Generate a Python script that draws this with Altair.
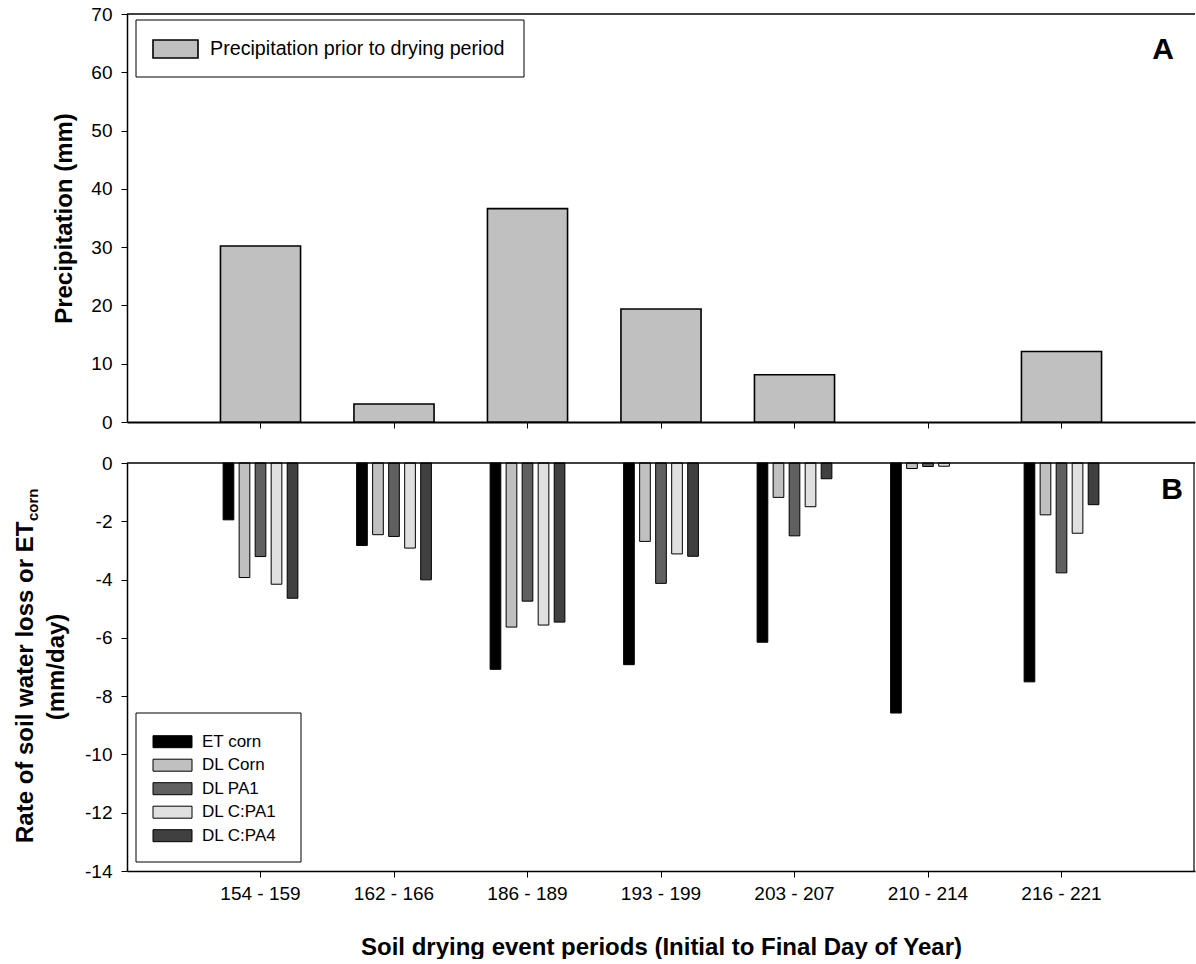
import altair as alt
import pandas as pd

# ---- data -----------------------------------------------------------------
periods = ["154 - 159", "162 - 166", "186 - 189", "193 - 199",
           "203 - 207", "210 - 214", "216 - 221"]

precip = [30.2, 3.1, 36.6, 19.4, 8.1, 0.0, 12.1]

series = ["ET corn", "DL Corn", "DL PA1", "DL C:PA1", "DL C:PA4"]
et_corn = [-1.95, -2.83, -7.08, -6.92, -6.15, -8.58, -7.51]
dl_corn = [-3.93, -2.46, -5.63, -2.69, -1.18, -0.19, -1.78]
dl_pa1 = [-3.21, -2.52, -4.74, -4.13, -2.50, -0.12, -3.77]
dl_c_pa1 = [-4.16, -2.92, -5.56, -3.12, -1.50, -0.11, -2.41]
dl_c_pa4 = [-4.64, -4.01, -5.46, -3.20, -0.54, 0.0, -1.43]

series_colors = ["#000000", "#c0c0c0", "#606060", "#e0e0e0", "#404040"]

precip_df = pd.DataFrame({"period": periods, "precip": precip})

loss_df = pd.DataFrame(
    [
        {"period": p, "series": s, "rate": v}
        for s, vals in zip(series, [et_corn, dl_corn, dl_pa1, dl_c_pa1, dl_c_pa4])
        for p, v in zip(periods, vals)
    ]
)

# ---- layout ---------------------------------------------------------------
W = 1068
H = 408
FONT = "Liberation Sans"

x_scale = alt.Scale(domain=periods, paddingInner=0.4, paddingOuter=0.7)
plain_label = "'' + datum.value"


def text_at(txt, x, y, size, bold=False, align="left", baseline="middle", angle=None):
    kw = dict(text=txt, fontSize=size, font=FONT, align=align,
              baseline=baseline, color="black")
    if bold:
        kw["fontWeight"] = "bold"
    if angle is not None:
        kw["angle"] = angle
    return alt.Chart(precip_df.head(1)).mark_text(**kw).encode(
        x=alt.value(x), y=alt.value(y))


def box_at(x0, x1, y0, y1, fill, sw=1.0):
    return alt.Chart(precip_df.head(1)).mark_rect(
        fill=fill, stroke="black", strokeWidth=sw
    ).encode(x=alt.value(x0), x2=alt.value(x1), y=alt.value(y0), y2=alt.value(y1))


# ---- panel A: precipitation --------------------------------------------------
bars_a = alt.Chart(precip_df).transform_filter("datum.precip > 0").mark_bar(
    color="#c0c0c0", stroke="black", strokeWidth=1.6
).encode(
    x=alt.X("period:N", sort=periods, scale=x_scale,
            axis=alt.Axis(title=None, labels=False, tickSize=6,
                          domainWidth=2, tickWidth=1)),
    y=alt.Y("precip:Q", scale=alt.Scale(domain=[0, 70], nice=False),
            axis=alt.Axis(values=list(range(0, 71, 10)), labelExpr=plain_label,
                          title="Precipitation (mm)", titleAngle=270,
                          titleX=-56, titleY=H / 2, titleAlign="center",
                          titleBaseline="alphabetic")),
)

frame_top_a = alt.Chart(precip_df.head(1)).mark_rule(
    color="black", strokeWidth=1.5
).encode(x=alt.value(0), x2=alt.value(W), y=alt.value(0))

legend_a = (
    box_at(9, 397, 6, 63, "white")
    + box_at(26, 71, 26, 44, "#c0c0c0", 1.6)
    + text_at("Precipitation prior to drying period", 83, 35, 19.7)
)

panel_a = alt.layer(
    bars_a, frame_top_a, legend_a, text_at("A", 1036, 36, 30, bold=True, align="center")
).properties(width=W, height=H)

# ---- panel B: soil water loss ------------------------------------------------
bars_b = alt.Chart(loss_df).transform_filter("datum.rate < 0").mark_bar(
    stroke="black", strokeWidth=1
).encode(
    x=alt.X("period:N", sort=periods, scale=x_scale,
            axis=alt.Axis(title="Soil drying event periods (Initial to Final Day of Year)",
                          labelPadding=7, tickSize=6, domainWidth=1.5,
                          labelAngle=0, titleX=W / 2, titleY=83,
                          titleAlign="center", titleBaseline="alphabetic")),
    xOffset=alt.XOffset("series:N", sort=series,
                        scale=alt.Scale(domain=series, paddingInner=1 / 3,
                                        paddingOuter=1 / 6)),
    y=alt.Y("rate:Q", scale=alt.Scale(domain=[-14, 0], nice=False),
            axis=alt.Axis(values=list(range(-14, 1, 2)), labelExpr=plain_label,
                          title=None)),
    color=alt.Color("series:N", sort=series,
                    scale=alt.Scale(domain=series, range=series_colors),
                    legend=None),
)

frame_b = (
    alt.Chart(precip_df.head(1)).mark_rule(color="black", strokeWidth=1.5)
    .encode(x=alt.value(0), x2=alt.value(W), y=alt.value(0))
    + alt.Chart(precip_df.head(1)).mark_rule(color="black", strokeWidth=1.2)
    .encode(x=alt.value(W - 1), y=alt.value(0), y2=alt.value(H))
)

legend_b = [box_at(9, 174, 250, 399, "white")]
for i, (name, col) in enumerate(zip(series, series_colors)):
    yc = 278.7 + i * 23.5
    legend_b.append(box_at(26, 65, yc - 6, yc + 6, col, 1.0))
    legend_b.append(text_at(name, 75, yc, 17))

ytitle_b = [
    text_at("Rate of soil water loss or ET", -94.5, 380, 24, bold=True,
            align="left", baseline="alphabetic", angle=270),
    text_at("corn", -89.5, 58, 15, bold=True,
            align="left", baseline="alphabetic", angle=270),
    text_at("(mm/day)", -63, H / 2, 24, bold=True,
            align="center", baseline="alphabetic", angle=270),
]

panel_b = alt.layer(
    bars_b, frame_b, *legend_b, *ytitle_b,
    text_at("B", 1045, 27, 30, bold=True, align="center"),
).properties(width=W, height=H)

chart = (
    alt.vconcat(panel_a, panel_b, spacing=22)
    .properties(padding={"left": 13, "top": 5, "right": 0, "bottom": 0})
    .configure_view(stroke=None)
    .configure_axis(
        grid=False,
        domainColor="black",
        tickColor="black",
        labelColor="black",
        titleColor="black",
        labelFont=FONT,
        titleFont=FONT,
        labelFontSize=19,
        titleFontSize=24,
        titleFontWeight="bold",
        labelPadding=9,
        tickSize=6,
        domainWidth=1.5,
    )
)

chart.save("out.html", embed_options={"renderer": "svg", "actions": False})
